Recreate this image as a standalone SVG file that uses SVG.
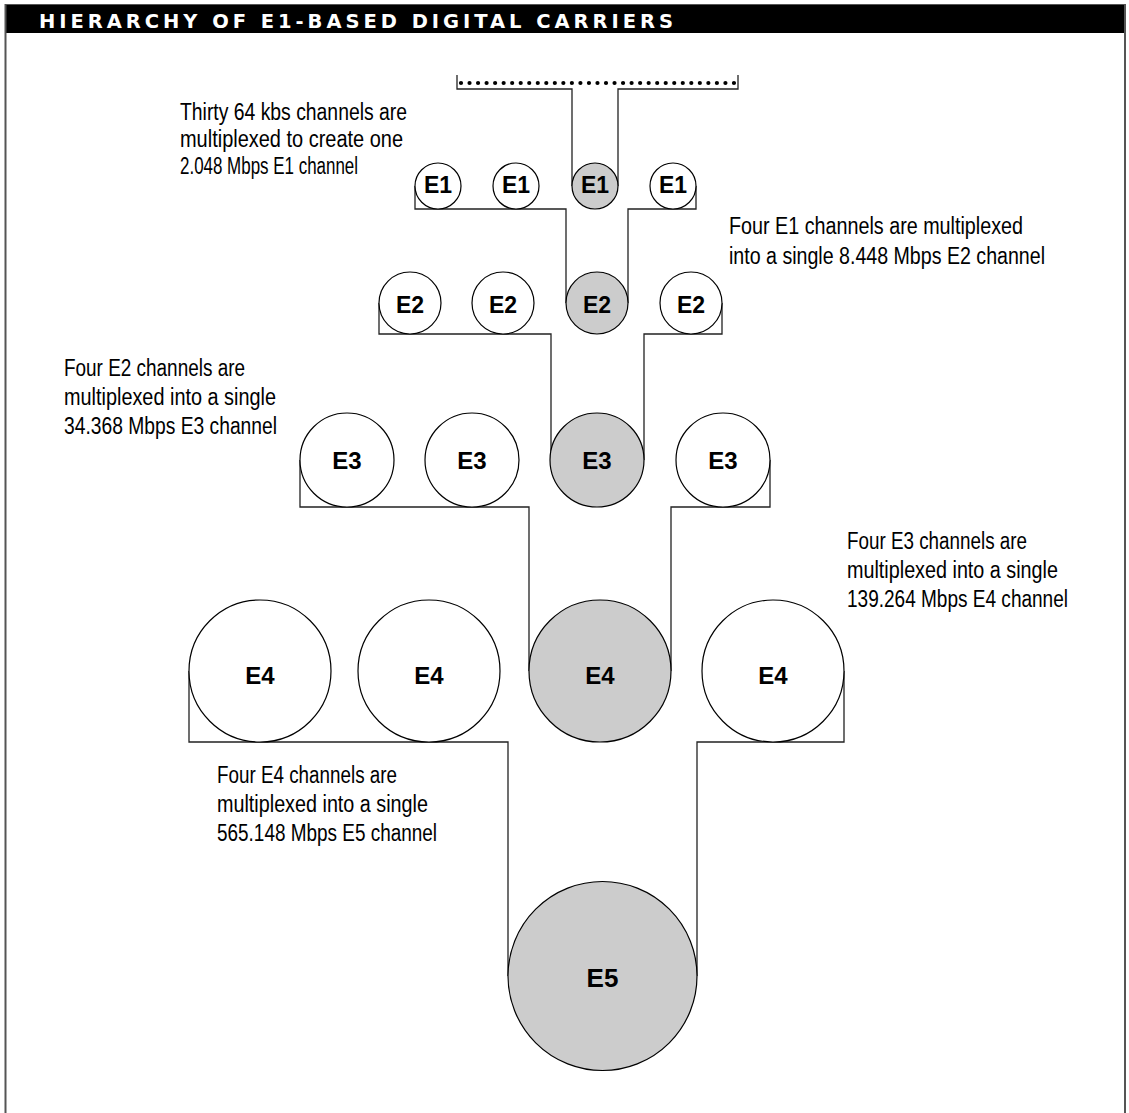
<svg xmlns="http://www.w3.org/2000/svg" width="1129" height="1113" viewBox="0 0 1129 1113">
<style>
.node circle{stroke:#000;stroke-width:1.2;fill:#fff}
.node.sel circle{fill:#cccccc}
.lbl{font-family:"Liberation Sans",Arial,sans-serif;font-weight:bold;font-size:23px;fill:#000;text-anchor:middle}
.lbl.m{font-size:24px}
.lbl.l{font-size:26px}
.note{font-family:"Liberation Sans",Arial,sans-serif;font-size:23px;fill:#000}
.conn path{fill:none;stroke:#222;stroke-width:1.3}
</style>
<rect x="0" y="0" width="1129" height="1113" fill="#fff"/>
<g id="frame">
<rect x="6" y="5" width="1119" height="28" fill="#000"/>
<line x1="5.5" y1="4" x2="5.5" y2="1113" stroke="#555" stroke-width="2"/>
<line x1="1125" y1="4" x2="1125" y2="1113" stroke="#555" stroke-width="2"/>
<line x1="5" y1="4.5" x2="1126" y2="4.5" stroke="#555" stroke-width="1"/>
<text x="39" y="27.5" font-family="'DejaVu Sans','Liberation Sans',Arial,sans-serif" font-weight="bold" font-size="19.5" fill="#fff" textLength="634" lengthAdjust="spacing">HIERARCHY OF E1-BASED DIGITAL CARRIERS</text>
</g>
<g id="connectors" class="conn">
<path d="M457,75 V89 H572 V186"/>
<path d="M618,186 V89 H738 V75"/>
<line x1="461" y1="83" x2="734.5" y2="83" stroke="#000" stroke-width="4.2" stroke-linecap="round" stroke-dasharray="0 8.53"/>
<path d="M415,186 V209 H566 V303"/>
<path d="M628,303 V209 H696 V186"/>
<path d="M379,303 V334 H551 V460"/>
<path d="M644,460 V334 H722 V303"/>
<path d="M300,460 V507 H529 V671"/>
<path d="M671,671 V507 H770 V460"/>
<path d="M189,671 V742 H508 V976"/>
<path d="M697,976 V742 H844 V671"/>
</g>
<g id="e1-1" class="node"><circle cx="438" cy="186" r="23"/><text class="lbl" x="438" y="193">E1</text></g>
<g id="e1-2" class="node"><circle cx="516" cy="186" r="23"/><text class="lbl" x="516" y="193">E1</text></g>
<g id="e1-3" class="node sel"><circle cx="595" cy="186" r="23"/><text class="lbl" x="595" y="193">E1</text></g>
<g id="e1-4" class="node"><circle cx="673" cy="186" r="23"/><text class="lbl" x="673" y="193">E1</text></g>
<g id="e2-1" class="node"><circle cx="410" cy="303" r="31"/><text class="lbl" x="410" y="313">E2</text></g>
<g id="e2-2" class="node"><circle cx="503" cy="303" r="31"/><text class="lbl" x="503" y="313">E2</text></g>
<g id="e2-3" class="node sel"><circle cx="597" cy="303" r="31"/><text class="lbl" x="597" y="313">E2</text></g>
<g id="e2-4" class="node"><circle cx="691" cy="303" r="31"/><text class="lbl" x="691" y="313">E2</text></g>
<g id="e3-1" class="node"><circle cx="347" cy="460" r="47"/><text class="lbl m" x="347" y="469">E3</text></g>
<g id="e3-2" class="node"><circle cx="472" cy="460" r="47"/><text class="lbl m" x="472" y="469">E3</text></g>
<g id="e3-3" class="node sel"><circle cx="597" cy="460" r="47"/><text class="lbl m" x="597" y="469">E3</text></g>
<g id="e3-4" class="node"><circle cx="723" cy="460" r="47"/><text class="lbl m" x="723" y="469">E3</text></g>
<g id="e4-1" class="node"><circle cx="260" cy="671" r="71"/><text class="lbl m" x="260" y="684">E4</text></g>
<g id="e4-2" class="node"><circle cx="429" cy="671" r="71"/><text class="lbl m" x="429" y="684">E4</text></g>
<g id="e4-3" class="node sel"><circle cx="600" cy="671" r="71"/><text class="lbl m" x="600" y="684">E4</text></g>
<g id="e4-4" class="node"><circle cx="773" cy="671" r="71"/><text class="lbl m" x="773" y="684">E4</text></g>
<g id="e5" class="node sel"><circle cx="602.5" cy="976" r="94.5"/><text class="lbl l" x="602.5" y="987">E5</text></g>
<g id="notes">
<text class="note" x="180" y="120" textLength="227" lengthAdjust="spacingAndGlyphs">Thirty 64 kbs channels are</text>
<text class="note" x="180" y="147" textLength="223" lengthAdjust="spacingAndGlyphs">multiplexed to create one</text>
<text class="note" x="180" y="174" textLength="178" lengthAdjust="spacingAndGlyphs">2.048 Mbps E1 channel</text>
<text class="note" x="729" y="234" textLength="294" lengthAdjust="spacingAndGlyphs">Four E1 channels are multiplexed</text>
<text class="note" x="729" y="264" textLength="316" lengthAdjust="spacingAndGlyphs">into a single 8.448 Mbps E2 channel</text>
<text class="note" x="64" y="376" textLength="181" lengthAdjust="spacingAndGlyphs">Four E2 channels are</text>
<text class="note" x="64" y="405" textLength="212" lengthAdjust="spacingAndGlyphs">multiplexed into a single</text>
<text class="note" x="64" y="434" textLength="213" lengthAdjust="spacingAndGlyphs">34.368 Mbps E3 channel</text>
<text class="note" x="847" y="549" textLength="180" lengthAdjust="spacingAndGlyphs">Four E3 channels are</text>
<text class="note" x="847" y="578" textLength="211" lengthAdjust="spacingAndGlyphs">multiplexed into a single</text>
<text class="note" x="847" y="607" textLength="221" lengthAdjust="spacingAndGlyphs">139.264 Mbps E4 channel</text>
<text class="note" x="217" y="783" textLength="180" lengthAdjust="spacingAndGlyphs">Four E4 channels are</text>
<text class="note" x="217" y="812" textLength="211" lengthAdjust="spacingAndGlyphs">multiplexed into a single</text>
<text class="note" x="217" y="841" textLength="220" lengthAdjust="spacingAndGlyphs">565.148 Mbps E5 channel</text>
</g>
</svg>
